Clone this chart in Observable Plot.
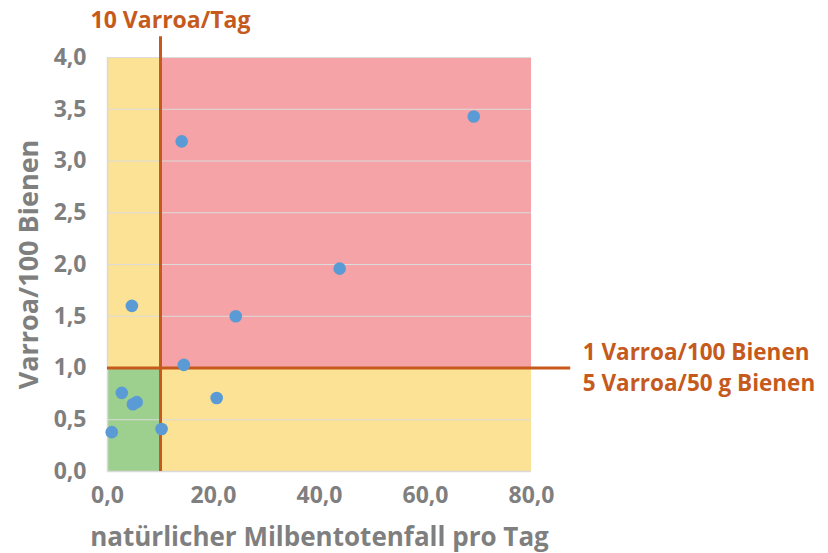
<!DOCTYPE html>
<html>
<head>
<meta charset="utf-8">
<script src="https://cdn.jsdelivr.net/npm/d3@7"></script>
<script src="https://cdn.jsdelivr.net/npm/@observablehq/plot@0.6"></script>
<style>
  html, body { margin: 0; padding: 0; background: #fff; }
  #chart svg { display: block; }
</style>
</head>
<body>
<div id="chart"></div>
<script>
// Data points: natural mite drop per day (x) vs. Varroa per 100 bees (y)
const miteDrop  = [69.1, 14.0, 43.8, 24.2, 4.6, 14.4, 20.6, 2.7, 4.8, 5.5, 0.8, 10.2];
const varroa100 = [3.43, 3.19, 1.96, 1.50, 1.60, 1.03, 0.71, 0.76, 0.65, 0.67, 0.38, 0.41];

// Threshold values
const thresholdX = [10];   // 10 Varroa/Tag
const thresholdY = [1];    // 1 Varroa/100 Bienen
const thresholdXLabel = ["10 Varroa/Tag"];
const thresholdYLabel = ["1 Varroa/100 Bienen\n5 Varroa/50 g Bienen"];
const thresholdYLineEnd = [87.4];   // horizontal threshold line runs past the plot to its label
const thresholdXLineTop = [4.2];    // vertical threshold line runs above the plot

// Zones
const zoneX1 = [0, 0, 10, 10];
const zoneX2 = [10, 10, 80, 80];
const zoneY1 = [0, 1, 0, 1];
const zoneY2 = [1, 4, 1, 4];
const zoneColor = ["#9dcf8f", "#fbe294", "#fbe294", "#f5a3a6"];

// Ticks & titles
const xTicks = [0, 20, 40, 60, 80];
const yTicks = [0, 0.5, 1, 1.5, 2, 2.5, 3, 3.5, 4];
const xTitle = ["natürlicher Milbentotenfall pro Tag"];
const yTitle = ["Varroa/100 Bienen"];

const points = miteDrop.map((x, i) => ({x, y: varroa100[i]}));
const zones = zoneX1.map((x1, i) => ({x1, x2: zoneX2[i], y1: zoneY1[i], y2: zoneY2[i], c: zoneColor[i]}));
const fmt = d => d.toFixed(1).replace(".", ",");

const gray = "#7f7f7f";
const orange = "#c55a1c";

const chart = Plot.plot({
  width: 828,
  height: 553,
  marginLeft: 107,
  marginRight: 297,
  marginTop: 57,
  marginBottom: 82,
  style: {fontFamily: "'Open Sans', sans-serif", fontWeight: "bold", color: gray, background: "#fff"},
  x: {domain: [0, 80], ticks: xTicks, tickFormat: fmt},
  y: {domain: [0, 4], ticks: yTicks, tickFormat: fmt},
  marks: [
    Plot.rect(zones, {x1: "x1", x2: "x2", y1: "y1", y2: "y2", fill: "c"}),
    Plot.gridY(yTicks.filter(d => d > 0), {stroke: "#dcdcdc", strokeOpacity: 1, strokeWidth: 1.2}),
    Plot.ruleX([0], {stroke: "#d9d9d9", strokeWidth: 1.5}),
    Plot.ruleY([0], {stroke: "#d9d9d9", strokeWidth: 1.5}),
    Plot.axisX({ticks: xTicks, tickFormat: fmt, tickSize: 0, tickPadding: 15, fontSize: 23, label: null, fill: gray}),
    Plot.axisY({ticks: yTicks, tickFormat: fmt, tickSize: 0, tickPadding: 21, fontSize: 23, label: null, fill: gray}),
    Plot.ruleY(thresholdY, {x1: 0, x2: () => thresholdYLineEnd[0], y: d => d, stroke: orange, strokeWidth: 3, clip: false}),
    Plot.ruleX(thresholdX, {x: d => d, y1: 0, y2: () => thresholdXLineTop[0], stroke: orange, strokeWidth: 3, clip: false}),
    Plot.dot(points, {x: "x", y: "y", r: 6.3, fill: "#5b9bd5", stroke: null}),
    Plot.text(thresholdXLabel, {x: thresholdX, y: thresholdXLineTop, text: d => d, dx: 10, dy: -16, fill: orange, fontSize: 23, fontWeight: "bold", textAnchor: "middle", clip: false}),
    Plot.text(thresholdYLabel, {x: thresholdYLineEnd, y: thresholdY, text: d => d, dx: 12, dy: -2, fill: orange, fontSize: 22.5, fontWeight: "bold", textAnchor: "start", lineAnchor: "middle", lineHeight: 1.38, clip: false}),
    Plot.text(xTitle, {frameAnchor: "bottom", text: d => d, dy: 74, fontSize: 26, fontWeight: "bold", fill: gray}),
    Plot.text(yTitle, {frameAnchor: "left", text: d => d, rotate: -90, dx: -78, textAnchor: "middle", fontSize: 27, fontWeight: "bold", fill: gray})
  ]
});
document.getElementById("chart").appendChild(chart);
</script>
</body>
</html>
